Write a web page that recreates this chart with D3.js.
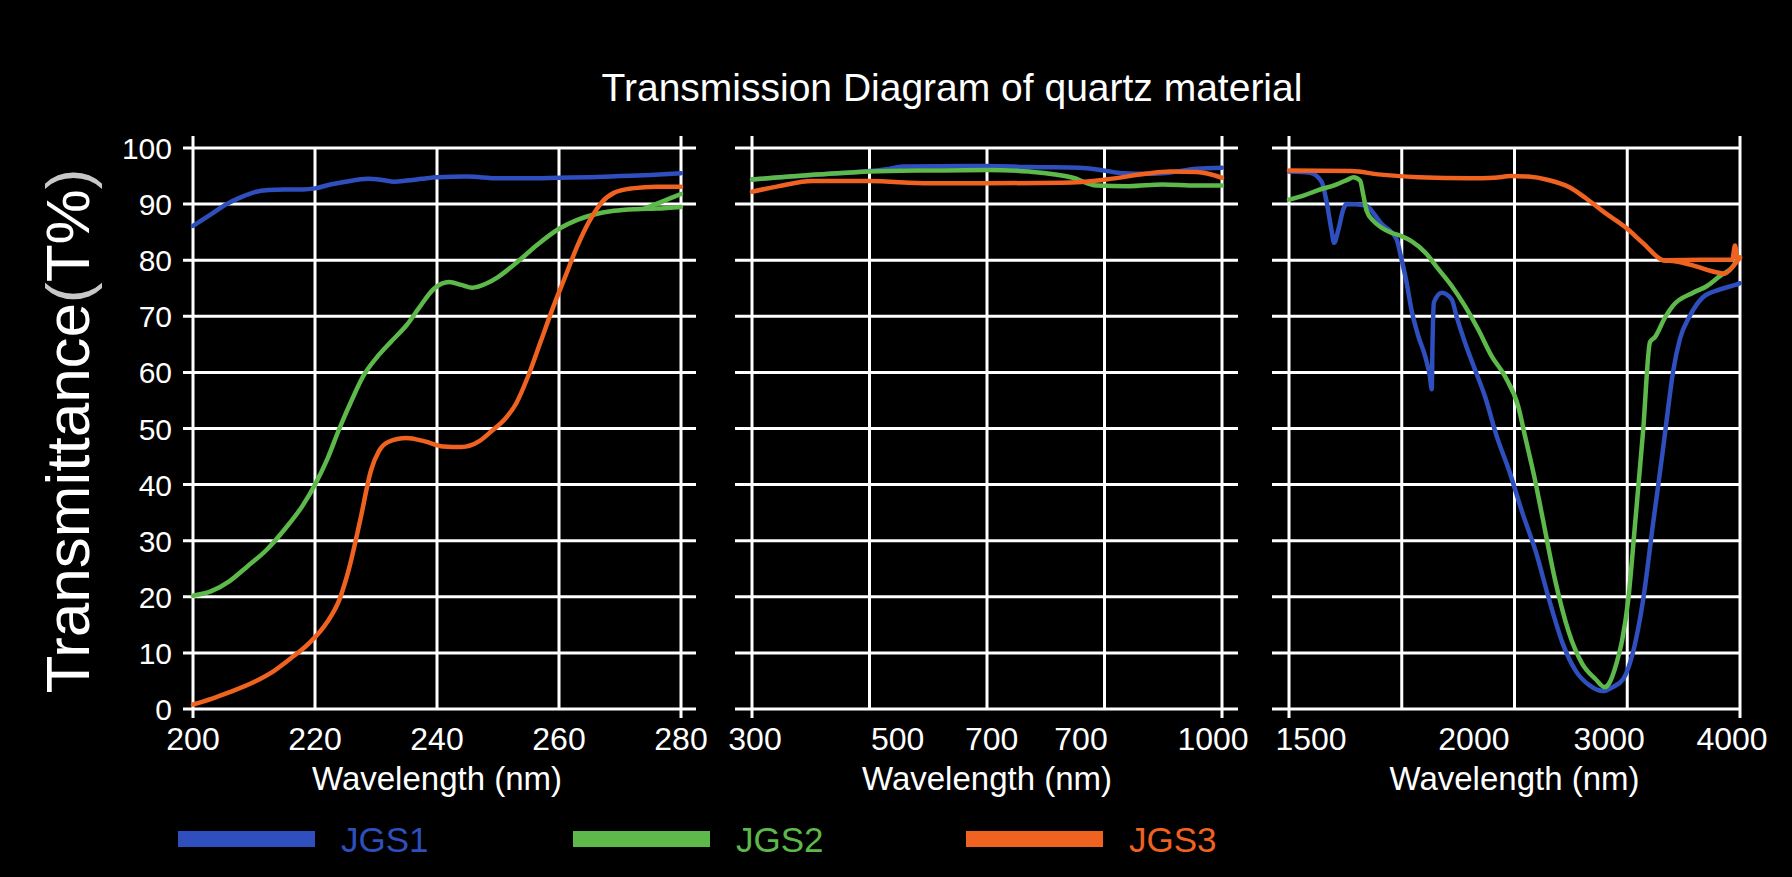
<!DOCTYPE html>
<html>
<head>
<meta charset="utf-8">
<script src="https://cdn.jsdelivr.net/npm/d3@7"></script>
<style>
  html, body { margin: 0; background: #000; }
  svg { display: block; }
  text { font-family: "Liberation Sans", Arial, sans-serif; }
</style>
</head>
<body>
<div id="chart"></div>
<script>
// tick values and labels of the three panels
const yTicks = [0, 10, 20, 30, 40, 50, 60, 70, 80, 90, 100];
const uvTicks = [200, 220, 240, 260, 280];
const uvTickLabels = ["200", "220", "240", "260", "280"];
const visTicks = [300, 500, 700, 900, 1000];
const visTickLabels = ["300", "500", "700", "700", "1000"];
const irTicks = [1500, 2000, 3000, 4000];
const irTickLabels = ["1500", "2000", "3000", "4000"];
const seriesNames = ["JGS1", "JGS2", "JGS3"];

// [wavelength nm, transmittance %]
const jgs1Uv = [[200,86.1],[203,88.2],[205.5,90.0],[208,91.3],[210,92.1],[212.4,92.5],[215,92.6],[218,92.6],[220,92.8],[222.5,93.5],[225,94.0],[228.7,94.5],[231,94.3],[233,94.0],[235,94.2],[237.5,94.5],[240,94.8],[245,94.9],[250,94.6],[255,94.6],[260,94.7],[265,94.8],[270,95.0],[275,95.2],[280,95.5]];
const jgs2Uv = [[200,20.2],[203,21],[206,22.8],[209,25.5],[212,28.3],[215,32],[218,36.3],[220,40],[222,44.5],[224,50],[226,55],[228,59.5],[230,62.5],[232.4,65.4],[235,68.4],[237,71.4],[239.5,74.9],[242,76.1],[244,75.6],[245.8,75.1],[248,75.8],[250,77],[253.4,79.9],[256.5,82.8],[260,85.6],[263,87.2],[265.6,88.1],[269,88.8],[272.6,89.1],[276,89.2],[280,89.5]];
const jgs2UvBranch = [[274,89.2],[277,90.5],[280,91.8]];
const jgs3Uv = [[200,0.8],[203,1.8],[206,3],[210,4.8],[213.3,6.8],[216,9],[219,11.7],[222,15.5],[224,19.5],[225.5,24.7],[227.4,33.6],[229.2,42.6],[230.5,46],[232,47.6],[235,48.3],[238,47.7],[241,46.8],[244,46.7],[247,47.8],[249,49.6],[251,51.5],[253,54.5],[255,59.5],[257,65.5],[259,71.5],[261,77],[263,82.5],[265,87],[267,90.3],[269,92],[272,92.8],[276,93.1],[280,93.1]];

const jgs1Vis = [[300,94.4],[406,95.4],[484,96.2],[511,96.7],[692,96.8],[784,96.6],[897,96.5],[916,96.0],[930,95.5],[946,95.4],[958,95.5],[982,96.3],[1000,96.5]];
const jgs2Vis = [[300,94.4],[406,95.4],[461,95.8],[568,96.0],[692,96.1],[784,95.8],[882,94.7],[911,93.3],[934,93.2],[958,93.5],[982,93.3],[1000,93.3]];
const jgs3Vis = [[300,92.2],[337,93.2],[383,94.1],[461,94.1],[568,93.7],[692,93.7],[859,93.8],[918,94.4],[946,95.4],[963,95.8],[982,95.7],[1000,94.7]];

const jgs1Ir = [[1500,95.8],[1557,95.6],[1588,94.0],[1602,90.3],[1615,85.3],[1622,83.1],[1633,85.3],[1647,89.1],[1656,90.0],[1705,89.8],[1750,86.5],[1791,83.7],[1804,80.2],[1818,76.0],[1831,71.2],[1850,66.4],[1868,62.9],[1881,59.3],[1886,57.0],[1888,65],[1892,72.5],[1913,74.2],[1940,73.0],[1953,70.0],[1976,65.3],[2008,60.5],[2082,55.7],[2170,48.5],[2260,42.5],[2358,35],[2458,28],[2557,19.4],[2656,11.7],[2755,6.7],[2855,4.2],[2954,3.2],[3026,3.9],[3106,5.3],[3183,10.2],[3259,19.4],[3335,33],[3404,45],[3442,52],[3488,60.1],[3541,66],[3617,70.1],[3717,73.4],[3848,74.8],[3977,75.7],[4000,75.9]];
const jgs2Ir = [[1500,90.8],[1543,91.6],[1579,92.5],[1624,93.4],[1660,94.4],[1674,94.8],[1692,94.2],[1701,91.6],[1710,88.8],[1728,87.0],[1750,85.8],[1777,84.9],[1804,84.3],[1831,83.4],[1868,81.4],[1904,78.4],[1940,75.4],[1976,71.8],[2033,67.6],[2131,62.9],[2230,59.3],[2328,53.9],[2378,48.6],[2450,41],[2500,35.0],[2600,23.0],[2700,13.8],[2800,8.1],[2900,5.3],[2966,3.9],[3000,4.6],[3055,8.1],[3100,12.4],[3145,19.4],[3200,33.6],[3259,49.5],[3312,65.4],[3350,66.3],[3427,69.8],[3488,71.9],[3641,74.2],[3748,75.4],[3848,77.2],[3947,78.9],[3977,80.0]];
const jgs3Ir = [[1500,96.0],[1670,95.9],[1741,95.3],[1850,94.8],[1990,94.6],[2150,94.7],[2270,95.0],[2400,94.9],[2550,94.3],[2706,93.0],[2830,91.0],[2954,88.7],[3122,85.9],[3261,83.0],[3412,80.0],[3500,79.8],[3650,79.0],[3810,77.9],[3880,77.6],[3950,79.0],[4000,80.5]];
const jgs3IrFlat = [[3412,80.0],[3700,80.1],[3940,80.1],[3962,82.6],[3980,80.3],[4000,80.4]];

const colors = {JGS1: "#2e4fbd", JGS2: "#5cb94a", JGS3: "#f0621f"};

const width = 1792, height = 877;
const svg = d3.select("#chart")
  .append("svg")
    .attr("width", width)
    .attr("height", height)
    .style("background", "#000");

// shared y axis
const y = d3.scaleLinear().domain([0, 100]).range([709, 148]);

// the panels: x axes are hand made in the original, so the middle and right use piecewise scales
const panels = [
  {left: 193, right: 681, ticks: uvTicks, labels: uvTickLabels, stops: [0, 1], ext: [10, 15],
   dx: [0, 0, 0, 0, 0],
   series: [{d: jgs1Uv, k: "JGS1"}, {d: jgs2Uv, k: "JGS2"}, {d: jgs2UvBranch, k: "JGS2"}, {d: jgs3Uv, k: "JGS3"}]},
  {left: 752, right: 1222, ticks: visTicks, labels: visTickLabels, stops: [0, .31, .51, .70, 1], ext: [17, 16],
   dx: [3, 0, 0, 0, -9],
   series: [{d: jgs1Vis, k: "JGS1"}, {d: jgs2Vis, k: "JGS2"}, {d: jgs3Vis, k: "JGS3"}]},
  {left: 1289, right: 1740, ticks: irTicks, labels: irTickLabels, stops: [0, .41, .71, 1], ext: [17, 0],
   dx: [22, 0, 0, -8],
   series: [{d: jgs1Ir, k: "JGS1"}, {d: jgs2Ir, k: "JGS2"}, {d: jgs3IrFlat, k: "JGS3"}, {d: jgs3Ir, k: "JGS3"}]}
];

panels.forEach(function(p) {
  const w = p.right - p.left;
  const x = p.stops.length === 2
    ? d3.scaleLinear().domain(d3.extent(p.ticks)).range([p.left, p.right])
    : d3.scaleLinear().domain(p.ticks).range(p.stops.map(s => p.left + s * w));
  const col = d3.scaleLinear().domain([0, 4]).range([p.left, p.right]);
  const g = svg.append("g");

  // horizontal grid
  g.selectAll(".hgrid").data(yTicks).enter().append("line")
    .attr("x1", p.left - p.ext[0]).attr("x2", p.right + p.ext[1])
    .attr("y1", d => y(d)).attr("y2", d => y(d))
    .attr("stroke", "#fff").attr("stroke-width", 3);

  // vertical grid, outer edges stick out a little
  g.selectAll(".vgrid").data(d3.range(5)).enter().append("line")
    .attr("x1", d => col(d)).attr("x2", d => col(d))
    .attr("y1", d => (d === 0 || d === 4) ? y(100) - 12 : y(100))
    .attr("y2", d => (d === 0 || d === 4) ? y(0) + 9 : y(0))
    .attr("stroke", "#fff").attr("stroke-width", 3);

  // x tick labels
  g.selectAll(".xlab").data(p.ticks).enter().append("text")
    .attr("x", (d, i) => x(d) + p.dx[i])
    .attr("y", 750)
    .attr("text-anchor", "middle")
    .attr("fill", "#fff")
    .attr("font-size", 32)
    .text((d, i) => p.labels[i]);

  g.append("text")
    .attr("x", (p.left + p.right) / 2)
    .attr("y", 790)
    .attr("text-anchor", "middle")
    .attr("fill", "#fff")
    .attr("font-size", 33)
    .text("Wavelength (nm)");

  // curves
  const line = d3.line()
    .x(d => x(d[0]))
    .y(d => y(d[1]))
    .curve(d3.curveMonotoneX);
  g.selectAll(".curve").data(p.series).enter().append("path")
    .attr("d", s => line(s.d))
    .attr("fill", "none")
    .attr("stroke", s => colors[s.k])
    .attr("stroke-width", 4.5)
    .attr("stroke-linecap", "round")
    .attr("stroke-linejoin", "round");
});

// y tick labels
svg.selectAll(".ylab").data(yTicks).enter().append("text")
  .attr("x", 172)
  .attr("y", d => y(d) + 11)
  .attr("text-anchor", "end")
  .attr("fill", "#fff")
  .attr("font-size", 30)
  .text(d => d);

// y title
const yTitle = svg.append("text")
  .attr("transform", "translate(89,431) rotate(-90)")
  .attr("text-anchor", "middle")
  .attr("fill", "#fff")
  .attr("font-size", 62);
yTitle.append("tspan").text("Transmittance");
yTitle.append("tspan").attr("fill", "#c8c8c8").text("(");
yTitle.append("tspan").text("T%");
yTitle.append("tspan").attr("fill", "#c8c8c8").text(")");

// title
svg.append("text")
  .attr("x", 952)
  .attr("y", 101)
  .attr("text-anchor", "middle")
  .attr("fill", "#fff")
  .attr("font-size", 39)
  .text("Transmission Diagram of quartz material");

// legend
const legendX = d3.scaleOrdinal().domain(seriesNames).range([178, 573, 966]);
const legend = svg.selectAll(".legend").data(seriesNames).enter().append("g");
legend.append("line")
  .attr("x1", d => legendX(d)).attr("x2", d => legendX(d) + 137)
  .attr("y1", 839).attr("y2", 839)
  .attr("stroke", d => colors[d])
  .attr("stroke-width", 16);
legend.append("text")
  .attr("x", d => legendX(d) + 163)
  .attr("y", 852)
  .attr("fill", d => colors[d])
  .attr("font-size", 35)
  .text(d => d);
</script>
</body>
</html>
